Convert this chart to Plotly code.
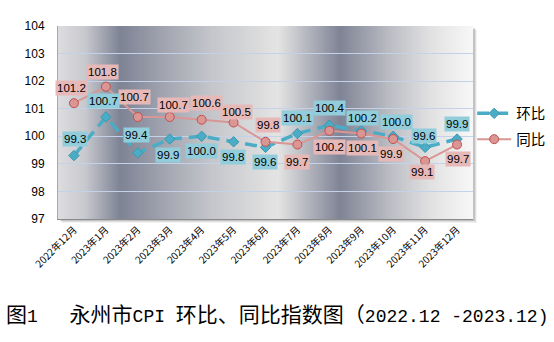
import plotly.graph_objects as go

# Month labels and index values
months = ["2022年12月", "2023年1月", "2023年2月", "2023年3月", "2023年4月", "2023年5月",
          "2023年6月", "2023年7月", "2023年8月", "2023年9月", "2023年10月", "2023年11月",
          "2023年12月"]
mom = [99.3, 100.7, 99.4, 99.9, 100.0, 99.8, 99.6, 100.1, 100.4, 100.2, 100.0, 99.6, 99.9]
yoy = [101.2, 101.8, 100.7, 100.7, 100.6, 100.5, 99.8, 99.7, 100.2, 100.1, 99.9, 99.1, 99.7]

# value-label offsets in pixels (positive dy = above the point)
mom_dy = [17, 16, 18, -16, -15, -15, -15, 16, 17, 13, 14, 11, 15]
mom_dx = [1, -2, -1, -2, 0, -1, -1, 0, 0, 1, 3, -1, 0]
yoy_dy = [15, 15, 20, 12, 17, 11, 17, -17, -16, -14, -15, -11, -14]
yoy_dx = [-2, -3, -3, 4, 5, 3, 2, 0, 0, 1, -2, -3, 1]

BLUE = "#4bacc6"
PINK = "#d99694"
BLUE_BOX = "#92cddc"
PINK_BOX = "#e6b9b8"
LABEL_FONT = "Liberation Sans, Arial, sans-serif"
CJK_FONT = "Noto Sans CJK SC, sans-serif"

fig = go.Figure()
fig.add_trace(go.Scatter(
    x=months, y=mom, name="环比", mode="lines+markers", legendgroup="a",
    line=dict(color=BLUE, width=3.5, dash="12px,7px"),
    marker=dict(symbol="diamond", size=8, color=BLUE, line=dict(color="#3b96b0", width=1)),
))
fig.add_trace(go.Scatter(
    x=months, y=yoy, name="同比", mode="lines+markers", legendgroup="b",
    line=dict(color=PINK, width=2),
    marker=dict(symbol="circle", size=9, color=PINK, line=dict(color="#c0504d", width=1)),
))

annotations = []
for m, v, dy, dx in zip(months, yoy, yoy_dy, yoy_dx):
    annotations.append(dict(
        x=m, y=v, xref="x", yref="y", text=f"{v:.1f}", showarrow=False,
        yshift=dy, xshift=dx, bgcolor=PINK_BOX, borderpad=1,
        font=dict(family=LABEL_FONT, size=11.5, color="#000000")))
for m, v, dy, dx in zip(months, mom, mom_dy, mom_dx):
    annotations.append(dict(
        x=m, y=v, xref="x", yref="y", text=f"{v:.1f}", showarrow=False,
        yshift=dy, xshift=dx, bgcolor=BLUE_BOX, borderpad=1,
        font=dict(family=LABEL_FONT, size=11.5, color="#000000")))

# figure caption: CJK glyphs in Noto Sans CJK, Latin glyphs in a fixed-pitch face
cj = "font-family:'Noto Sans CJK SC';font-size:21px"
la = "font-family:'Liberation Mono';font-size:18px"
NB = "\u00a0"
caption = (
    f"<span style=\"{cj}\">图</span><span style=\"{la}\">1{NB}</span>"
    f"<span style=\"{cj}\">\u3000</span>"
    f"<span style=\"{cj}\">永州市</span><span style=\"{la}\">CPI{NB}</span>"
    f"<span style=\"{cj}\">环比、同比指数图（</span>"
    f"<span style=\"{la}\">2022.12 -2023.12)</span>"
)
annotations.append(dict(
    x=(4 - 58) / 415, y=-0.487, xref="paper", yref="paper", showarrow=False,
    xanchor="left", yanchor="middle", text=caption,
    font=dict(family=CJK_FONT, size=21, color="#000000"),
))

# Plot-area background: banded horizontal gray gradient
stops = [
    (0.00, (0xdd, 0xdd, 0xe0)),
    (0.065, (0xc8, 0xc9, 0xce)),
    (0.15, (0x7e, 0x83, 0x95)),
    (0.26, (0xa3, 0xa6, 0xb1)),
    (0.37, (0xc5, 0xc6, 0xcb)),
    (0.53, (0xe4, 0xe4, 0xe4)),
    (0.68, (0x7f, 0x84, 0x96)),
    (0.80, (0xbb, 0xbd, 0xc3)),
    (0.90, (0xe2, 0xe2, 0xe3)),
    (1.00, (0xf8, 0xf8, 0xf8)),
]


def color_at(t):
    for (t0, c0), (t1, c1) in zip(stops[:-1], stops[1:]):
        if t0 <= t <= t1:
            f = (t - t0) / (t1 - t0)
            r, g, b = (round(a + (b_ - a) * f) for a, b_ in zip(c0, c1))
            return f"rgb({r},{g},{b})"
    return "rgb(248,248,248)"


shapes = []
# soft shadow to the lower right of the plot area
for dx, op in [(4, 0.08), (3, 0.12), (2, 0.22)]:
    shapes.append(dict(type="rect", xref="paper", yref="paper", layer="below",
                       x0=dx / 415, x1=1 + dx / 415, y0=-dx / 193, y1=1 - dx / 193,
                       fillcolor=f"rgba(90,90,90,{op})", line=dict(width=0)))
n = 208
for i in range(n):
    t0, t1 = i / n, (i + 1) / n
    shapes.append(dict(type="rect", xref="paper", yref="paper", layer="below",
                       x0=t0, x1=t1 + 0.002 if i < n - 1 else t1, y0=0, y1=1,
                       fillcolor=color_at((t0 + t1) / 2), line=dict(width=0)))

fig.update_layout(
    width=554, height=342,
    margin=dict(l=58, r=81, t=26, b=123, autoexpand=False),
    paper_bgcolor="white",
    plot_bgcolor="rgba(0,0,0,0)",
    shapes=shapes,
    annotations=annotations,
    showlegend=True,
    legend=dict(x=0.998, xanchor="left", y=0.63, yanchor="top",
                font=dict(family=CJK_FONT, size=14.5, color="#000000"),
                bgcolor="rgba(0,0,0,0)", tracegroupgap=4, itemwidth=34),
    xaxis=dict(type="category", range=[-0.5, 12.5], showgrid=False,
               tickangle=-45, tickfont=dict(family=CJK_FONT, size=10, color="#000000"),
               showline=True, linecolor="#8a8a8a", linewidth=1, ticks="",
               zeroline=False),
    yaxis=dict(range=[97, 104], dtick=1, tick0=97, showgrid=True, gridcolor="#c3d2e8",
               gridwidth=1, zeroline=False, showline=True, linecolor="#a8a8a8",
               tickfont=dict(family=LABEL_FONT, size=12, color="#000000"),
               ticklabelstandoff=10, ticks=""),
)

fig.write_html("out.html")
